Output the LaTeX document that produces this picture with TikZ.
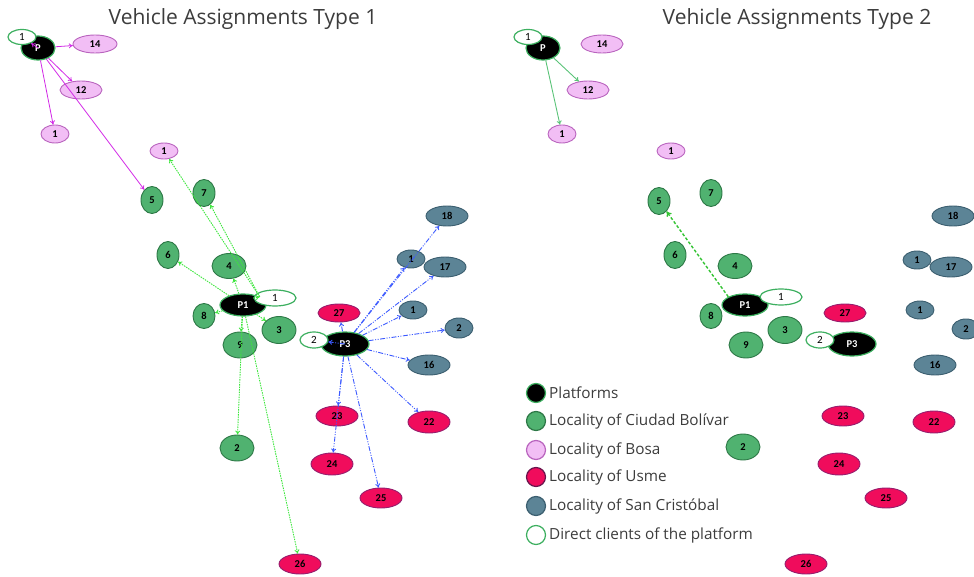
\documentclass[tikz,border=0pt]{standalone}
\usepackage{fontspec}
\setmainfont{Open Sans}
\newfontfamily\lblfont{Carlito}
\usetikzlibrary{shapes.geometric,arrows.meta}
\definecolor{cbF}{RGB}{80,178,112}
\definecolor{cbD}{RGB}{45,120,70}
\definecolor{boF}{RGB}{242,190,245}
\definecolor{boD}{RGB}{185,100,190}
\definecolor{usF}{RGB}{240,12,92}
\definecolor{usD}{RGB}{150,30,110}
\definecolor{scF}{RGB}{92,132,150}
\definecolor{scD}{RGB}{60,95,112}
\definecolor{clD}{RGB}{60,175,95}
\definecolor{magE}{RGB}{210,40,230}
\definecolor{grnE}{RGB}{60,230,60}
\definecolor{bluE}{RGB}{60,90,255}
\definecolor{sgE}{RGB}{90,195,120}
\definecolor{txt}{RGB}{60,60,60}
\tikzset{
  loc/.style={ellipse, inner sep=0pt, line width=0.9pt, font=\lblfont\bfseries\fontsize{10.5}{10.5}\selectfont},
  sz/.style 2 args={minimum width=#1pt, minimum height=#2pt},
  cb/.style={loc, draw=cbD, fill=cbF, text=black},
  bo/.style={loc, draw=boD, fill=boF, text=black},
  us/.style={loc, draw=usD, fill=usF, text=black},
  sc/.style={loc, draw=scD, fill=scF, text=black},
  plat/.style={loc, draw=clD, line width=1.2pt, fill=black, text=white},
  cli/.style={loc, draw=clD, line width=1.2pt, fill=white, text=black, font=\lblfont\fontsize{11}{11}\selectfont},
  mag/.style={draw=magE, line width=0.8pt, -{To[length=4pt,width=5pt]}},
  grd/.style={draw=grnE, line width=0.9pt, dash pattern=on 1.5pt off 1pt, -{To[length=4pt,width=5pt]}},
  blu/.style={draw=bluE, line width=0.9pt, dash pattern=on 5pt off 1.5pt on 1pt off 1.5pt on 1pt off 1.5pt, -{To[length=4pt,width=5pt]}},
  sgs/.style={draw=sgE, line width=0.9pt, -{To[length=4pt,width=5pt]}},
  grdash/.style={draw=grnE!85!black, line width=1.4pt, dash pattern=on 3pt off 2pt, -{To[length=5pt,width=6pt]}},
  title/.style={font=\fontsize{21}{21}\selectfont, text=txt},
  legc/.style={circle, minimum size=19pt, inner sep=0pt, line width=1.2pt},
  legt/.style={anchor=west, font=\fontsize{15.3}{15.3}\selectfont, text=txt, inner sep=0pt},
}
\begin{document}
\begin{tikzpicture}[x=1pt,y=-1pt]
\useasboundingbox (0,0) rectangle (974,577);
% titles
\node[title] (t1) at (243,19) {Vehicle Assignments Type 1};
\node[title] (t2) at (797,19) {Vehicle Assignments Type 2};
%%%%%%%%%% LEFT PANEL %%%%%%%%%%
\node[plat, sz={34}{24}] (P) at (38,48) {P};
\node[cli, sz={28}{15}] (Pc) at (22,37) {1};
\node[bo, sz={44}{18}] (b14) at (95,44) {14};
\node[bo, sz={42}{18}] (b12) at (81,90) {12};
\node[bo, sz={28}{18}] (b1a) at (55,134) {1};
\node[bo, sz={28}{16}] (b1b) at (164,151) {1};
\node[cb, sz={22}{27}] (c5) at (152,200) {5};
\node[cb, sz={22}{27}] (c7) at (204,193) {7};
\node[cb, sz={22}{27}] (c6) at (168,255) {6};
\node[cb, sz={34}{25}] (c4) at (229,266) {4};
\node[plat, sz={46}{22}] (P1) at (243,305) {P1};
\node[cli, sz={42}{16}] (P1c) at (275,298) {1};
\node[cb, sz={22}{25}] (c8) at (204,316) {8};
\node[cb, sz={34}{27}] (c3) at (279,330) {3};
\node[cb, sz={34}{26}] (c9) at (240,345) {9};
\node[cb, sz={34}{26}] (c2) at (237,448) {2};
\node[us, sz={42}{20}] (u26) at (300,564) {26};
\node[us, sz={42}{18}] (u27) at (339,313) {27};
\node[plat, sz={48}{24}] (P3) at (345,344) {P3};
\node[cli, sz={28}{16}] (P3c) at (314,340) {2};
\node[us, sz={42}{20}] (u23) at (337,416) {23};
\node[us, sz={42}{22}] (u24) at (332,464) {24};
\node[us, sz={42}{20}] (u25) at (381,498) {25};
\node[us, sz={42}{22}] (u22) at (429,422) {22};
\node[sc, sz={42}{20}] (s18) at (447,216) {18};
\node[sc, sz={28}{18}] (s1a) at (411,259) {1};
\node[sc, sz={42}{20}] (s17) at (445,267) {17};
\node[sc, sz={28}{18}] (s1b) at (413,310) {1};
\node[sc, sz={28}{20}] (s2) at (459,328) {2};
\node[sc, sz={42}{20}] (s16) at (429,365) {16};
% magenta edges
\draw[mag] (P) -- (b14);
\draw[mag] (P) -- (b12);
\draw[mag] (P) -- (b1a);
\draw[mag] (P) -- (c5);
\draw[mag] (P.center) -- (Pc);
% green dotted edges
\draw[grd] (P1.north east) -- (b1b);
\draw[grd] (P1.north east) -- (c7);
\draw[grd] (P1) -- (c6);
\draw[grd] (P1) -- (c4);
\draw[grd] (P1) -- (c8);
\draw[grd] (P1) -- (c3);
\draw[grd] (P1) -- (c9);
\draw[grd] (P1) -- (c2);
\draw[grd] (P1) -- (u26);
\draw[grd] (P1c.west) -- (P1.north east);
% blue dash-dot edges
\draw[blu] (P3) -- (u27);
\draw[blu] (P3) -- (s1a);
\draw[blu] (P3) -- (s17);
\draw[blu] (P3) -- (s18);
\draw[blu] (P3) -- (s1b);
\draw[blu] (P3) -- (s2);
\draw[blu] (P3) -- (s16);
\draw[blu] (P3) -- (u22);
\draw[blu] (P3) -- (u25);
\draw[blu] (P3) -- (u24);
\draw[blu] (P3) -- (u23);
\draw[blu] (P3.center) -- (P3c);
%%%%%%%%%% RIGHT PANEL %%%%%%%%%%
\node[plat, sz={34}{24}] (Q) at (543,48) {P};
\node[cli, sz={28}{15}] (Qc) at (528,37) {1};
\node[bo, sz={42}{18}] (r14) at (602,44) {14};
\node[bo, sz={42}{18}] (r12) at (588,90) {12};
\node[bo, sz={28}{18}] (r1a) at (562,134) {1};
\node[bo, sz={28}{16}] (r1b) at (671,151) {1};
\node[cb, sz={22}{27}] (d5) at (659,201) {5};
\node[cb, sz={22}{27}] (d7) at (711,193) {7};
\node[cb, sz={22}{27}] (d6) at (675,255) {6};
\node[cb, sz={34}{25}] (d4) at (735,266) {4};
\node[plat, sz={46}{22}] (Q1) at (745,305) {P1};
\node[cli, sz={42}{16}] (Q1c) at (781,297) {1};
\node[cb, sz={22}{25}] (d8) at (711,316) {8};
\node[cb, sz={34}{27}] (d3) at (785,330) {3};
\node[cb, sz={34}{26}] (d9) at (746,345) {9};
\node[cb, sz={34}{26}] (d2) at (743,447) {2};
\node[us, sz={42}{18}] (v27) at (845,313) {27};
\node[plat, sz={48}{24}] (Q3) at (852,344) {P3};
\node[cli, sz={28}{16}] (Q3c) at (820,340) {2};
\node[us, sz={42}{20}] (v23) at (843,416) {23};
\node[us, sz={42}{22}] (v22) at (934,422) {22};
\node[us, sz={42}{22}] (v24) at (839,464) {24};
\node[us, sz={42}{20}] (v25) at (886,498) {25};
\node[us, sz={42}{20}] (v26) at (806,564) {26};
\node[sc, sz={42}{20}] (w18) at (953,216) {18};
\node[sc, sz={28}{18}] (w1a) at (917,260) {1};
\node[sc, sz={42}{20}] (w17) at (951,267) {17};
\node[sc, sz={28}{18}] (w1b) at (920,310) {1};
\node[sc, sz={28}{20}] (w2) at (966,329) {2};
\node[sc, sz={42}{20}] (w16) at (935,365) {16};
\draw[sgs] (Q) -- (r12);
\draw[sgs] (Q) -- (r1a);
\draw[grdash] (Q1.north west) -- (d5);
% legend
\node[legc, draw=clD, fill=black] (l1) at (536,393) {};
\node[legc, draw=cbD, fill=cbF] (l2) at (536,421) {};
\node[legc, draw=boD, fill=boF] (l3) at (536,450) {};
\node[legc, draw=usD!70!black, fill=usF] (l4) at (536,477) {};
\node[legc, draw=scD, fill=scF] (l5) at (536,506) {};
\node[legc, draw=clD, fill=white] (l6) at (536,535) {};
\node[legt] (lt1) at (549,393) {Platforms};
\node[legt] (lt2) at (549,421) {Locality of Ciudad Bolívar};
\node[legt] (lt3) at (549,450) {Locality of Bosa};
\node[legt] (lt4) at (549,477) {Locality of Usme};
\node[legt] (lt5) at (549,506) {Locality of San Cristóbal};
\node[legt] (lt6) at (549,535) {Direct clients of the platform};
\end{tikzpicture}
\end{document}
